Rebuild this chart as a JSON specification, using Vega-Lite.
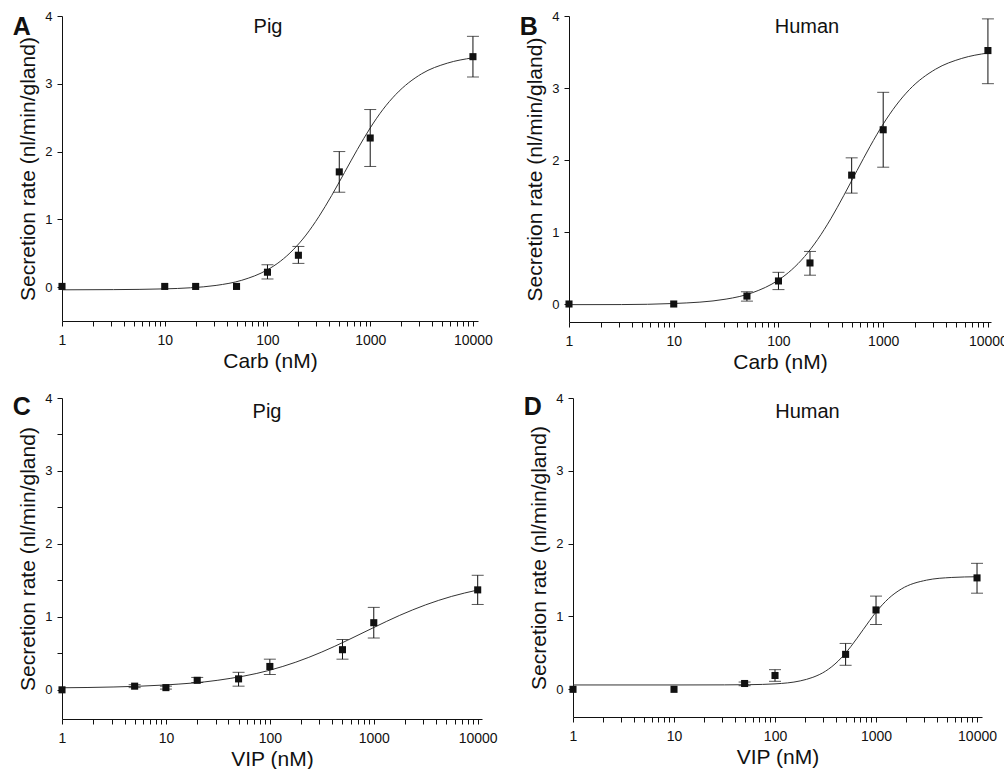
{
  "$schema": "https://vega.github.io/schema/vega-lite/v6.json",
  "background": "white",
  "padding": {"left": 12, "top": 10, "right": 0, "bottom": 0},
  "config": {
    "font": "Liberation Sans",
    "view": {"stroke": null},
    "axis": {"domainColor": "#111", "tickColor": "#111", "labelColor": "#111", "titleColor": "#111", "labelFont": "Liberation Sans", "titleFont": "Liberation Sans", "labelFontSize": 13, "titleFontSize": 21, "titleFontWeight": "normal", "grid": false, "tickSize": 5, "domainWidth": 1, "tickWidth": 1, "labelOverlap": false, "labelFlush": false},
    "axisX": {"labelPadding": 7, "titlePadding": 3, "labelFontSize": 14},
    "axisY": {"labelPadding": 5, "titlePadding": 6},
    "title": {"font": "Liberation Sans", "color": "#111"}
  },
  "datasets": {
    "A_pts": [
      {"x": 1, "y": 0.01}, {"x": 10, "y": 0.01}, {"x": 20, "y": 0.01}, {"x": 50, "y": 0.01},
      {"x": 100, "y": 0.22, "lo": 0.12, "hi": 0.33},
      {"x": 200, "y": 0.47, "lo": 0.35, "hi": 0.60},
      {"x": 500, "y": 1.70, "lo": 1.40, "hi": 2.00},
      {"x": 1000, "y": 2.20, "lo": 1.78, "hi": 2.62},
      {"x": 10000, "y": 3.40, "lo": 3.10, "hi": 3.70}
    ],
    "A_fit": [
      {"x": 1, "y": -0.04}, {"x": 3.162, "y": -0.037}, {"x": 10, "y": -0.026}, {"x": 17.78, "y": -0.01}, {"x": 31.62, "y": 0.025}, {"x": 56.23, "y": 0.101}, {"x": 100, "y": 0.256}, {"x": 133.4, "y": 0.381}, {"x": 177.8, "y": 0.55}, {"x": 237.1, "y": 0.768}, {"x": 316.2, "y": 1.039}, {"x": 421.7, "y": 1.352}, {"x": 562.3, "y": 1.691}, {"x": 749.9, "y": 2.031}, {"x": 1000, "y": 2.348}, {"x": 1333.5, "y": 2.623}, {"x": 1778, "y": 2.844}, {"x": 3162, "y": 3.147}, {"x": 5623, "y": 3.304}, {"x": 10000, "y": 3.383}
    ],
    "B_pts": [
      {"x": 1, "y": 0.0}, {"x": 10, "y": 0.0},
      {"x": 50, "y": 0.11, "lo": 0.04, "hi": 0.17},
      {"x": 100, "y": 0.32, "lo": 0.20, "hi": 0.44},
      {"x": 200, "y": 0.57, "lo": 0.40, "hi": 0.73},
      {"x": 500, "y": 1.79, "lo": 1.54, "hi": 2.03},
      {"x": 1000, "y": 2.42, "lo": 1.90, "hi": 2.94},
      {"x": 10000, "y": 3.52, "lo": 3.06, "hi": 3.96}
    ],
    "B_fit": [
      {"x": 1, "y": -0.009}, {"x": 3.162, "y": -0.008}, {"x": 10, "y": 0.007}, {"x": 31.62, "y": 0.068}, {"x": 56.23, "y": 0.156}, {"x": 100, "y": 0.333}, {"x": 133.4, "y": 0.474}, {"x": 177.8, "y": 0.66}, {"x": 237.1, "y": 0.898}, {"x": 316.2, "y": 1.184}, {"x": 421.7, "y": 1.51}, {"x": 562.3, "y": 1.853}, {"x": 749.9, "y": 2.19}, {"x": 1000, "y": 2.499}, {"x": 1333.5, "y": 2.763}, {"x": 1778, "y": 2.977}, {"x": 3162, "y": 3.261}, {"x": 5623, "y": 3.411}, {"x": 10000, "y": 3.486}
    ],
    "C_pts": [
      {"x": 1, "y": 0.0},
      {"x": 5, "y": 0.05, "lo": 0.03, "hi": 0.07},
      {"x": 10, "y": 0.03, "lo": 0.01, "hi": 0.05},
      {"x": 20, "y": 0.13, "lo": 0.10, "hi": 0.17},
      {"x": 50, "y": 0.15, "lo": 0.05, "hi": 0.24},
      {"x": 100, "y": 0.32, "lo": 0.21, "hi": 0.42},
      {"x": 500, "y": 0.55, "lo": 0.42, "hi": 0.69},
      {"x": 1000, "y": 0.92, "lo": 0.71, "hi": 1.13},
      {"x": 10000, "y": 1.37, "lo": 1.17, "hi": 1.57}
    ],
    "C_fit": [
      {"x": 1, "y": 0.028}, {"x": 3.162, "y": 0.039}, {"x": 10, "y": 0.067}, {"x": 31.62, "y": 0.131}, {"x": 100, "y": 0.269}, {"x": 177.8, "y": 0.379}, {"x": 316.2, "y": 0.518}, {"x": 562.3, "y": 0.681}, {"x": 1000, "y": 0.854}, {"x": 1778, "y": 1.021}, {"x": 3162, "y": 1.165}, {"x": 5623, "y": 1.281}, {"x": 10000, "y": 1.368}
    ],
    "D_pts": [
      {"x": 1, "y": 0.0}, {"x": 10, "y": 0.0},
      {"x": 50, "y": 0.08, "lo": 0.05, "hi": 0.10},
      {"x": 100, "y": 0.19, "lo": 0.11, "hi": 0.27},
      {"x": 500, "y": 0.48, "lo": 0.33, "hi": 0.63},
      {"x": 1000, "y": 1.09, "lo": 0.89, "hi": 1.28},
      {"x": 10000, "y": 1.53, "lo": 1.32, "hi": 1.73}
    ],
    "D_fit": [
      {"x": 1, "y": 0.06}, {"x": 10, "y": 0.06}, {"x": 31.62, "y": 0.061}, {"x": 56.23, "y": 0.064}, {"x": 100, "y": 0.075}, {"x": 177.8, "y": 0.116}, {"x": 237.1, "y": 0.165}, {"x": 316.2, "y": 0.249}, {"x": 421.7, "y": 0.388}, {"x": 562.3, "y": 0.586}, {"x": 749.9, "y": 0.824}, {"x": 1000, "y": 1.06}, {"x": 1333.5, "y": 1.248}, {"x": 1778, "y": 1.377}, {"x": 3162, "y": 1.499}, {"x": 5623, "y": 1.536}, {"x": 10000, "y": 1.546}
    ]
  },
  "spacing": 20,
  "vconcat": [
    {
      "spacing": 26,
      "hconcat": [
        {
          "title": {"text": "A", "anchor": "start", "frame": "bounds", "fontSize": 25, "fontWeight": "bold", "baseline": "top", "offset": -30, "dx": -5},
          "hconcat": [
            {
              "width": 416, "height": 305,
              "title": {"text": "Pig", "anchor": "middle", "frame": "group", "fontSize": 20, "fontWeight": "normal", "baseline": "top", "offset": -27, "dx": -2},
              "layer": [
                {"data": {"name": "A_fit"}, "mark": {"type": "line", "color": "#333", "strokeWidth": 1, "interpolate": "monotone"},
                 "encoding": {
                   "x": {"field": "x", "type": "quantitative", "title": "Carb (nM)", "scale": {"type": "log", "domain": [1, 11200], "nice": false},
                         "axis": {"values": [1,2,3,4,5,6,7,8,9,10,20,30,40,50,60,70,80,90,100,200,300,400,500,600,700,800,900,1000,2000,3000,4000,5000,6000,7000,8000,9000,10000], "format": "d", "labelExpr": "datum.value == 1 || datum.value == 10 || datum.value == 100 || datum.value == 1000 || datum.value == 10000 ? datum.label : ''"}},
                   "y": {"field": "y", "type": "quantitative", "title": "Secretion rate (nl/min/gland)", "scale": {"domain": [-0.5, 4], "nice": false, "zero": false},
                         "axis": {"values": [0,0.5,1,1.5,2,2.5,3,3.5,4], "labelExpr": "datum.value % 1 === 0 ? format(datum.value, 'd') : ''"}}
                 }},
                {"data": {"name": "A_pts"}, "transform": [{"filter": "isValid(datum.lo)"}], "mark": {"type": "rule", "color": "#111", "strokeWidth": 1},
                 "encoding": {"x": {"field": "x", "type": "quantitative", "title": "Carb (nM)"}, "y": {"field": "lo", "type": "quantitative", "title": "Secretion rate (nl/min/gland)"}, "y2": {"field": "hi"}}},
                {"data": {"name": "A_pts"}, "transform": [{"filter": "isValid(datum.lo)"}], "mark": {"type": "tick", "orient": "horizontal", "size": 12, "thickness": 1, "color": "#111"},
                 "encoding": {"x": {"field": "x", "type": "quantitative", "title": "Carb (nM)"}, "y": {"field": "lo", "type": "quantitative", "title": "Secretion rate (nl/min/gland)"}}},
                {"data": {"name": "A_pts"}, "transform": [{"filter": "isValid(datum.hi)"}], "mark": {"type": "tick", "orient": "horizontal", "size": 12, "thickness": 1, "color": "#111"},
                 "encoding": {"x": {"field": "x", "type": "quantitative", "title": "Carb (nM)"}, "y": {"field": "hi", "type": "quantitative", "title": "Secretion rate (nl/min/gland)"}}},
                {"data": {"name": "A_pts"}, "mark": {"type": "square", "size": 50, "color": "#111", "filled": true, "opacity": 1},
                 "encoding": {"x": {"field": "x", "type": "quantitative", "title": "Carb (nM)"}, "y": {"field": "y", "type": "quantitative", "title": "Secretion rate (nl/min/gland)"}}}
              ]
            }
          ]
        },
        {
          "title": {"text": "B", "anchor": "start", "frame": "bounds", "fontSize": 25, "fontWeight": "bold", "baseline": "top", "offset": -30, "dx": -5},
          "hconcat": [
            {
              "width": 422, "height": 306,
              "title": {"text": "Human", "anchor": "middle", "frame": "group", "fontSize": 20, "fontWeight": "normal", "baseline": "top", "offset": -27, "dx": 27},
              "layer": [
                {"data": {"name": "B_fit"}, "mark": {"type": "line", "color": "#333", "strokeWidth": 1, "interpolate": "monotone"},
                 "encoding": {
                   "x": {"field": "x", "type": "quantitative", "title": "Carb (nM)", "scale": {"type": "log", "domain": [1, 10700], "nice": false},
                         "axis": {"values": [1,2,3,4,5,6,7,8,9,10,20,30,40,50,60,70,80,90,100,200,300,400,500,600,700,800,900,1000,2000,3000,4000,5000,6000,7000,8000,9000,10000], "format": "d", "labelExpr": "datum.value == 1 || datum.value == 10 || datum.value == 100 || datum.value == 1000 || datum.value == 10000 ? datum.label : ''"}},
                   "y": {"field": "y", "type": "quantitative", "title": "Secretion rate (nl/min/gland)", "scale": {"domain": [-0.25, 4], "nice": false, "zero": false},
                         "axis": {"values": [0,0.5,1,1.5,2,2.5,3,3.5,4], "labelExpr": "datum.value % 1 === 0 ? format(datum.value, 'd') : ''"}}
                 }},
                {"data": {"name": "B_pts"}, "transform": [{"filter": "isValid(datum.lo)"}], "mark": {"type": "rule", "color": "#111", "strokeWidth": 1},
                 "encoding": {"x": {"field": "x", "type": "quantitative", "title": "Carb (nM)"}, "y": {"field": "lo", "type": "quantitative", "title": "Secretion rate (nl/min/gland)"}, "y2": {"field": "hi"}}},
                {"data": {"name": "B_pts"}, "transform": [{"filter": "isValid(datum.lo)"}], "mark": {"type": "tick", "orient": "horizontal", "size": 12, "thickness": 1, "color": "#111"},
                 "encoding": {"x": {"field": "x", "type": "quantitative", "title": "Carb (nM)"}, "y": {"field": "lo", "type": "quantitative", "title": "Secretion rate (nl/min/gland)"}}},
                {"data": {"name": "B_pts"}, "transform": [{"filter": "isValid(datum.hi)"}], "mark": {"type": "tick", "orient": "horizontal", "size": 12, "thickness": 1, "color": "#111"},
                 "encoding": {"x": {"field": "x", "type": "quantitative", "title": "Carb (nM)"}, "y": {"field": "hi", "type": "quantitative", "title": "Secretion rate (nl/min/gland)"}}},
                {"data": {"name": "B_pts"}, "mark": {"type": "square", "size": 50, "color": "#111", "filled": true, "opacity": 1},
                 "encoding": {"x": {"field": "x", "type": "quantitative", "title": "Carb (nM)"}, "y": {"field": "y", "type": "quantitative", "title": "Secretion rate (nl/min/gland)"}}}
              ]
            }
          ]
        }
      ]
    },
    {
      "spacing": 25,
      "hconcat": [
        {
          "title": {"text": "C", "anchor": "start", "frame": "bounds", "fontSize": 25, "fontWeight": "bold", "baseline": "top", "offset": -28, "dx": -5},
          "hconcat": [
            {
              "width": 420, "height": 321,
              "title": {"text": "Pig", "anchor": "middle", "frame": "group", "fontSize": 20, "fontWeight": "normal", "baseline": "top", "offset": -30, "dx": -5},
              "layer": [
                {"data": {"name": "C_fit"}, "mark": {"type": "line", "color": "#333", "strokeWidth": 1, "interpolate": "monotone"},
                 "encoding": {
                   "x": {"field": "x", "type": "quantitative", "title": "VIP (nM)", "scale": {"type": "log", "domain": [1, 11000], "nice": false},
                         "axis": {"values": [1,2,3,4,5,6,7,8,9,10,20,30,40,50,60,70,80,90,100,200,300,400,500,600,700,800,900,1000,2000,3000,4000,5000,6000,7000,8000,9000,10000], "format": "d", "labelExpr": "datum.value == 1 || datum.value == 10 || datum.value == 100 || datum.value == 1000 || datum.value == 10000 ? datum.label : ''"}},
                   "y": {"field": "y", "type": "quantitative", "title": "Secretion rate (nl/min/gland)", "scale": {"domain": [-0.4, 4], "nice": false, "zero": false},
                         "axis": {"values": [0,0.5,1,1.5,2,2.5,3,3.5,4], "labelExpr": "datum.value % 1 === 0 ? format(datum.value, 'd') : ''"}}
                 }},
                {"data": {"name": "C_pts"}, "transform": [{"filter": "isValid(datum.lo)"}], "mark": {"type": "rule", "color": "#111", "strokeWidth": 1},
                 "encoding": {"x": {"field": "x", "type": "quantitative", "title": "VIP (nM)"}, "y": {"field": "lo", "type": "quantitative", "title": "Secretion rate (nl/min/gland)"}, "y2": {"field": "hi"}}},
                {"data": {"name": "C_pts"}, "transform": [{"filter": "isValid(datum.lo)"}], "mark": {"type": "tick", "orient": "horizontal", "size": 12, "thickness": 1, "color": "#111"},
                 "encoding": {"x": {"field": "x", "type": "quantitative", "title": "VIP (nM)"}, "y": {"field": "lo", "type": "quantitative", "title": "Secretion rate (nl/min/gland)"}}},
                {"data": {"name": "C_pts"}, "transform": [{"filter": "isValid(datum.hi)"}], "mark": {"type": "tick", "orient": "horizontal", "size": 12, "thickness": 1, "color": "#111"},
                 "encoding": {"x": {"field": "x", "type": "quantitative", "title": "VIP (nM)"}, "y": {"field": "hi", "type": "quantitative", "title": "Secretion rate (nl/min/gland)"}}},
                {"data": {"name": "C_pts"}, "mark": {"type": "square", "size": 50, "color": "#111", "filled": true, "opacity": 1},
                 "encoding": {"x": {"field": "x", "type": "quantitative", "title": "VIP (nM)"}, "y": {"field": "y", "type": "quantitative", "title": "Secretion rate (nl/min/gland)"}}}
              ]
            }
          ]
        },
        {
          "title": {"text": "D", "anchor": "start", "frame": "bounds", "fontSize": 25, "fontWeight": "bold", "baseline": "top", "offset": -28, "dx": -5},
          "hconcat": [
            {
              "width": 409, "height": 319,
              "title": {"text": "Human", "anchor": "middle", "frame": "group", "fontSize": 20, "fontWeight": "normal", "baseline": "top", "offset": -30, "dx": 30},
              "layer": [
                {"data": {"name": "D_fit"}, "mark": {"type": "line", "color": "#333", "strokeWidth": 1, "interpolate": "monotone"},
                 "encoding": {
                   "x": {"field": "x", "type": "quantitative", "title": "VIP (nM)", "scale": {"type": "log", "domain": [1, 11200], "nice": false},
                         "axis": {"values": [1,2,3,4,5,6,7,8,9,10,20,30,40,50,60,70,80,90,100,200,300,400,500,600,700,800,900,1000,2000,3000,4000,5000,6000,7000,8000,9000,10000], "format": "d", "labelExpr": "datum.value == 1 || datum.value == 10 || datum.value == 100 || datum.value == 1000 || datum.value == 10000 ? datum.label : ''"}},
                   "y": {"field": "y", "type": "quantitative", "title": "Secretion rate (nl/min/gland)", "scale": {"domain": [-0.38, 4], "nice": false, "zero": false},
                         "axis": {"values": [0,0.5,1,1.5,2,2.5,3,3.5,4], "labelExpr": "datum.value % 1 === 0 ? format(datum.value, 'd') : ''"}}
                 }},
                {"data": {"name": "D_pts"}, "transform": [{"filter": "isValid(datum.lo)"}], "mark": {"type": "rule", "color": "#111", "strokeWidth": 1},
                 "encoding": {"x": {"field": "x", "type": "quantitative", "title": "VIP (nM)"}, "y": {"field": "lo", "type": "quantitative", "title": "Secretion rate (nl/min/gland)"}, "y2": {"field": "hi"}}},
                {"data": {"name": "D_pts"}, "transform": [{"filter": "isValid(datum.lo)"}], "mark": {"type": "tick", "orient": "horizontal", "size": 12, "thickness": 1, "color": "#111"},
                 "encoding": {"x": {"field": "x", "type": "quantitative", "title": "VIP (nM)"}, "y": {"field": "lo", "type": "quantitative", "title": "Secretion rate (nl/min/gland)"}}},
                {"data": {"name": "D_pts"}, "transform": [{"filter": "isValid(datum.hi)"}], "mark": {"type": "tick", "orient": "horizontal", "size": 12, "thickness": 1, "color": "#111"},
                 "encoding": {"x": {"field": "x", "type": "quantitative", "title": "VIP (nM)"}, "y": {"field": "hi", "type": "quantitative", "title": "Secretion rate (nl/min/gland)"}}},
                {"data": {"name": "D_pts"}, "mark": {"type": "square", "size": 50, "color": "#111", "filled": true, "opacity": 1},
                 "encoding": {"x": {"field": "x", "type": "quantitative", "title": "VIP (nM)"}, "y": {"field": "y", "type": "quantitative", "title": "Secretion rate (nl/min/gland)"}}}
              ]
            }
          ]
        }
      ]
    }
  ]
}
